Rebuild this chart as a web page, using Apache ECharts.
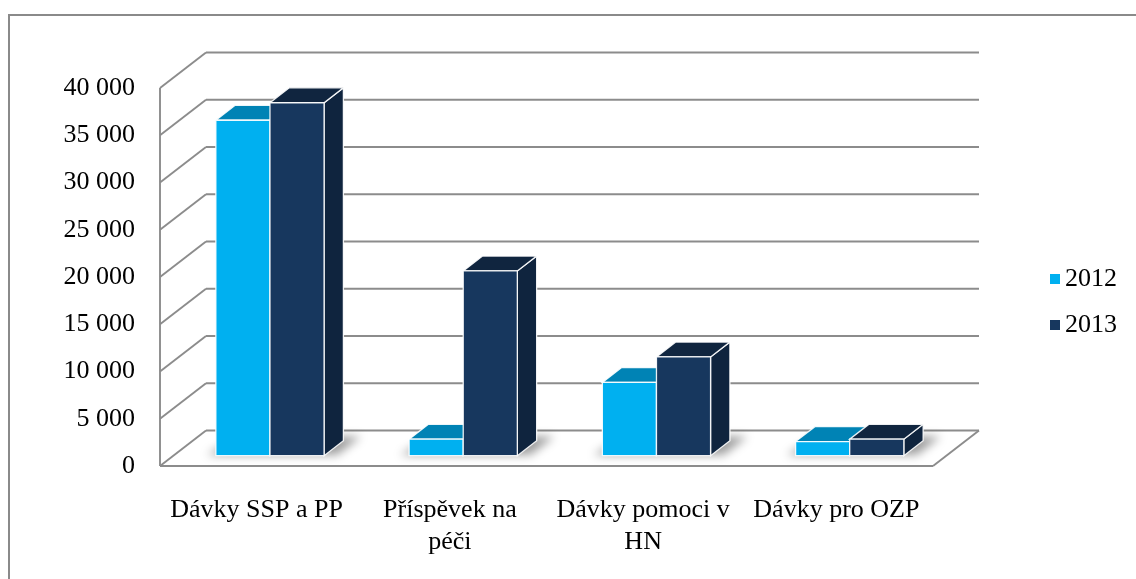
<!DOCTYPE html>
<html>
<head>
<meta charset="utf-8">
<script src="https://cdn.jsdelivr.net/npm/echarts@6/dist/echarts.min.js"></script>
<style>
html,body{margin:0;padding:0;background:#fff;}
#chart{width:1136px;height:579px;}
</style>
</head>
<body>
<div id="chart"></div>
<script>
// ---- data ----
const categories = ['Dávky SSP a PP', 'Příspěvek na\npéči', 'Dávky pomoci v\nHN', 'Dávky pro OZP'];
const seriesNames = ['2012', '2013'];
const values2012 = [35500, 1750, 7750, 1500];
const values2013 = [37350, 19550, 10450, 1750];
const yTicks = [0, 5000, 10000, 15000, 20000, 25000, 30000, 35000, 40000];

// ---- style constants ----
const FONT = 'Liberation Serif';
const DX = 46, DY = -35.5;        // depth vector of the 3D floor
const F0 = 0.29, DEPTH = 0.42;    // bar front position & depth (fraction of floor depth)
const BAR_FRAC = 0.28;            // bar width as fraction of the category band
const GRID_COLOR = '#8c8c8c';
const palette = {
  '2012': {front: '#00B0F0', top: '#0083B5', side: '#0078A8'},
  '2013': {front: '#17375E', top: '#10253F', side: '#0F243E'}
};

function fmt(v){ return String(v).replace(/\B(?=(\d{3})+(?!\d))/g, ' '); }

const chart = echarts.init(document.getElementById('chart'));

function wallItem(params, api){
  const cs = params.coordSys;
  const y = api.coord([0, api.value(1)])[1];
  const x0 = cs.x;
  const style = {stroke: GRID_COLOR, lineWidth: 1.9};
  return {type: 'group', children: [
    {type: 'line', shape: {x1: x0, y1: y, x2: x0 + DX, y2: y + DY}, style},
    {type: 'line', shape: {x1: x0 + DX, y1: y + DY, x2: x0 + cs.width + DX, y2: y + DY}, style}
  ]};
}

function floorItem(params, api){
  const cs = params.coordSys;
  const y0 = api.coord([0, yTicks[0]])[1];
  const yT = api.coord([0, yTicks[yTicks.length - 1]])[1];
  const style = {stroke: GRID_COLOR, lineWidth: 1.9};
  return {type: 'group', children: [
    {type: 'line', shape: {x1: cs.x, y1: y0, x2: cs.x + cs.width, y2: y0}, style},
    {type: 'line', shape: {x1: cs.x + cs.width, y1: y0, x2: cs.x + cs.width + DX, y2: y0 + DY}, style},
    {type: 'line', shape: {x1: cs.x, y1: y0, x2: cs.x, y2: yT}, style}
  ]};
}

// soft floor shadow: the polygon is drawn off-screen and only its blurred shadow is shifted back
function shadowItem(params, api){
  const i = api.value(0);
  const band = api.size([1, 0])[0];
  const c = api.coord([i, 0]);
  const w = band * BAR_FRAC;
  const OFF = 3000;
  const xl = c[0] - w - 10 - OFF, xr = c[0] + w + 12 - OFF;
  const fa = F0 + 0.02, fb = F0 + DEPTH + 0.12;
  const pts = [
    [xl + fa * DX, c[1] + fa * DY],
    [xr + fa * DX, c[1] + fa * DY],
    [xr + fb * DX, c[1] + fb * DY],
    [xl + fb * DX + 8, c[1] + fb * DY]
  ];
  return {type: 'polygon', shape: {points: pts},
    style: {fill: '#000', shadowBlur: 10, shadowOffsetX: OFF, shadowColor: 'rgba(0,0,0,0.38)'}};
}

function makeBarRenderer(sIdx, name){
  const col = palette[name];
  return function(params, api){
    const i = api.value(0);
    const v = api.value(1);
    const band = api.size([1, 0])[0];
    const base = api.coord([i, 0]);
    const top = api.coord([i, v]);
    const w = band * BAR_FRAC;
    const xl = (sIdx === 0 ? base[0] - w : base[0]) + F0 * DX;
    const yb = base[1] + F0 * DY;
    const yt = top[1] + F0 * DY;
    const ddx = DEPTH * DX, ddy = DEPTH * DY;
    const stroke = {stroke: 'rgba(255,255,255,0.9)', lineWidth: 1.3};
    return {type: 'group', children: [
      {type: 'polygon', shape: {points: [[xl + w, yt], [xl + w + ddx, yt + ddy], [xl + w + ddx, yb + ddy], [xl + w, yb]]},
        style: Object.assign({fill: col.side}, stroke)},
      {type: 'polygon', shape: {points: [[xl, yt], [xl + w, yt], [xl + w + ddx, yt + ddy], [xl + ddx, yt + ddy]]},
        style: Object.assign({fill: col.top}, stroke)},
      {type: 'rect', shape: {x: xl, y: yt, width: w, height: yb - yt},
        style: Object.assign({fill: col.front}, stroke)}
    ]};
  };
}

const option = {
  animation: false,
  backgroundColor: '#fff',
  graphic: [{type: 'rect', z: 100, silent: true, shape: {x: 9, y: 15, width: 1200, height: 700},
    style: {fill: 'none', stroke: '#8a8a8a', lineWidth: 2}}],
  grid: {left: 160, right: 203, top: 88, bottom: 113, containLabel: false},
  legend: {
    orient: 'vertical', left: 1045, top: 261, itemWidth: 10, itemHeight: 10, itemGap: 20,
    icon: 'rect',
    data: seriesNames,
    textStyle: {fontFamily: FONT, fontSize: 26, color: '#000', lineHeight: 26}
  },
  xAxis: {
    type: 'category', data: categories,
    axisLine: {show: false}, axisTick: {show: false}, splitLine: {show: false},
    axisLabel: {interval: 0, margin: 28, fontFamily: FONT, fontSize: 26, color: '#000', lineHeight: 32}
  },
  yAxis: {
    type: 'value', min: 0, max: 40000, interval: 5000,
    axisLine: {show: false}, axisTick: {show: false}, splitLine: {show: false},
    axisLabel: {margin: 25, fontFamily: FONT, fontSize: 26, color: '#000', formatter: fmt,
      padding: [4, 0, 0, 0]}
  },
  series: [
    {type: 'custom', name: 'walls', silent: true, z: 1, renderItem: wallItem,
      data: yTicks.map(v => [0, v]), encode: {x: 0, y: 1}},
    {type: 'custom', name: 'floor', silent: true, z: 1, renderItem: floorItem,
      data: [[0, 0]], encode: {x: 0, y: 1}},
    {type: 'custom', name: 'shadow', silent: true, z: 2, renderItem: shadowItem,
      data: categories.map((c, i) => [i, 0]), encode: {x: 0, y: 1}},
    {type: 'custom', name: '2012', z: 3, itemStyle: {color: palette['2012'].front},
      renderItem: makeBarRenderer(0, '2012'),
      data: values2012.map((v, i) => [i, v]), encode: {x: 0, y: 1}},
    {type: 'custom', name: '2013', z: 3, itemStyle: {color: palette['2013'].front},
      renderItem: makeBarRenderer(1, '2013'),
      data: values2013.map((v, i) => [i, v]), encode: {x: 0, y: 1}}
  ]
};
chart.setOption(option);
</script>
</body>
</html>
